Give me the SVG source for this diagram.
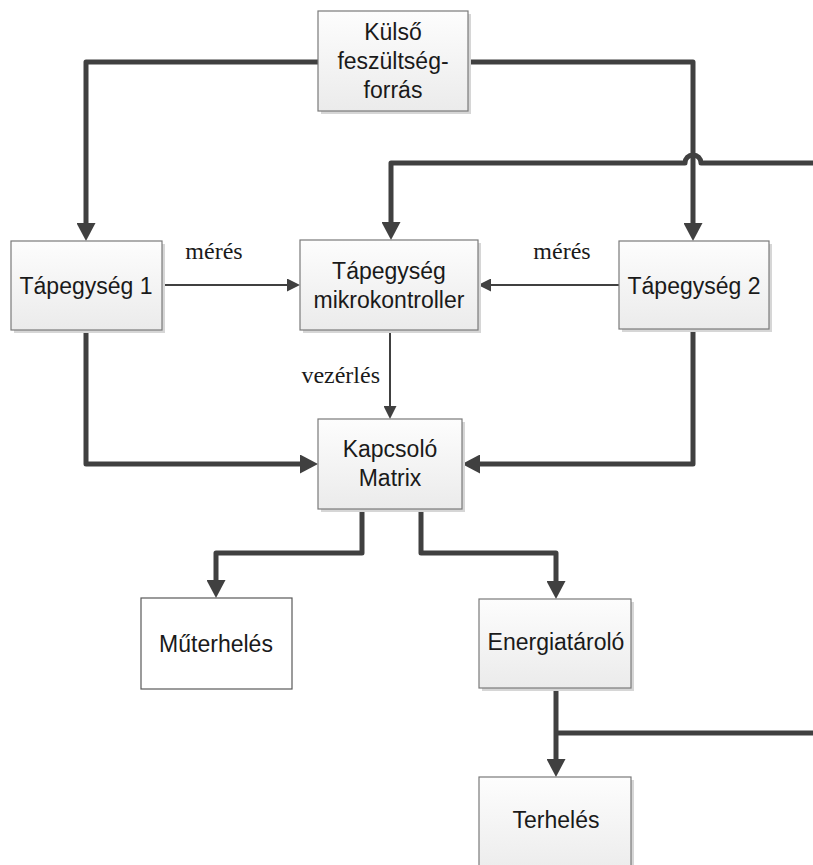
<svg xmlns="http://www.w3.org/2000/svg" width="813" height="865" viewBox="0 0 813 865">
  <style>
    .box { fill: url(#boxFill); stroke: #7a7a7a; stroke-width: 1.2; }
    .plain { fill: #ffffff; stroke: #595959; stroke-width: 1.2; }
    .shadow { fill: #d6d6d6; }
    .label { font-family: "Liberation Sans", Arial, sans-serif; font-size: 23px; fill: #1a1a1a; text-anchor: middle; }
    .note { font-family: "Liberation Serif", "Times New Roman", serif; font-size: 24px; fill: #1a1a1a; }
    .power { fill: none; stroke: #404040; stroke-width: 5; stroke-linejoin: round; marker-end: url(#bigArrow); }
    .power-plain { fill: none; stroke: #404040; stroke-width: 5; stroke-linejoin: round; }
    .signal { fill: none; stroke: #404040; stroke-width: 2; marker-end: url(#smallArrow); }
  </style>
  <defs>
    <linearGradient id="boxFill" x1="0" y1="0" x2="0" y2="1">
      <stop offset="0" stop-color="#fdfdfd"/>
      <stop offset="1" stop-color="#ebebeb"/>
    </linearGradient>
    <marker id="bigArrow" viewBox="0 0 18 19" markerUnits="userSpaceOnUse" markerWidth="18" markerHeight="19" refX="10" refY="9.5" orient="auto">
      <path d="M0,0 L18,9.5 L0,19 Z" fill="#404040"/>
    </marker>
    <marker id="smallArrow" viewBox="0 0 13 13" markerUnits="userSpaceOnUse" markerWidth="13" markerHeight="13" refX="7" refY="6.5" orient="auto">
      <path d="M0,0 L13,6.5 L0,13 Z" fill="#404040"/>
    </marker>
  </defs>

  <!-- connectors -->
  <g id="connectors">
    <path class="power" d="M318,62 H86 V233"/>
    <path class="power" d="M468,62 H693 V233"/>
    <path class="power" d="M813,163 H701 A8,8 0 0 0 685,163 H391 V232"/>
    <path class="signal" d="M162,285 H294"/>
    <path class="signal" d="M619,285 H484"/>
    <path class="signal" d="M390,330 V413"/>
    <path class="power" d="M86,330 V464 H310"/>
    <path class="power" d="M693,330 V464 H470"/>
    <path class="power" d="M362,509 V553 H216 V590"/>
    <path class="power" d="M421,509 V553 H556 V591"/>
    <path class="power" d="M556,688 V769"/>
    <path class="power-plain" d="M556,733 H813"/>
    <text class="note" x="214" y="259" text-anchor="middle">mérés</text>
    <text class="note" x="562" y="259" text-anchor="middle">mérés</text>
    <text class="note" x="380" y="383" text-anchor="end">vezérlés</text>
  </g>

  <g id="kulso-forras">
    <rect class="shadow" x="321" y="14" width="150" height="100"/>
    <rect class="box" x="318" y="11" width="150" height="100"/>
    <text class="label" x="393" y="40">Külső</text>
    <text class="label" x="393" y="69">feszültség-</text>
    <text class="label" x="393" y="98">forrás</text>
  </g>

  <g id="tapegyseg-1">
    <rect class="shadow" x="14" y="244" width="151" height="89"/>
    <rect class="box" x="11" y="241" width="151" height="89"/>
    <text class="label" x="86" y="294">Tápegység 1</text>
  </g>

  <g id="mikrokontroller">
    <rect class="shadow" x="303" y="243" width="178" height="90"/>
    <rect class="box" x="300" y="240" width="178" height="90"/>
    <text class="label" x="389" y="279">Tápegység</text>
    <text class="label" x="389" y="308">mikrokontroller</text>
  </g>

  <g id="tapegyseg-2">
    <rect class="shadow" x="622" y="244" width="150" height="88"/>
    <rect class="box" x="619" y="241" width="150" height="88"/>
    <text class="label" x="694" y="294">Tápegység 2</text>
  </g>

  <g id="kapcsolo-matrix">
    <rect class="shadow" x="321" y="422" width="144" height="90"/>
    <rect class="box" x="318" y="419" width="144" height="90"/>
    <text class="label" x="390" y="457">Kapcsoló</text>
    <text class="label" x="390" y="486">Matrix</text>
  </g>

  <g id="muterheles">
    <rect class="plain" x="141" y="598" width="151" height="91"/>
    <text class="label" x="216" y="652">Műterhelés</text>
  </g>

  <g id="energiatarolo">
    <rect class="shadow" x="482" y="602" width="152" height="89"/>
    <rect class="box" x="479" y="599" width="152" height="89"/>
    <text class="label" x="556" y="650">Energiatároló</text>
  </g>

  <g id="terheles">
    <rect class="shadow" x="482" y="780" width="152" height="100"/>
    <rect class="box" x="479" y="777" width="152" height="100"/>
    <text class="label" x="556" y="828">Terhelés</text>
  </g>
</svg>
